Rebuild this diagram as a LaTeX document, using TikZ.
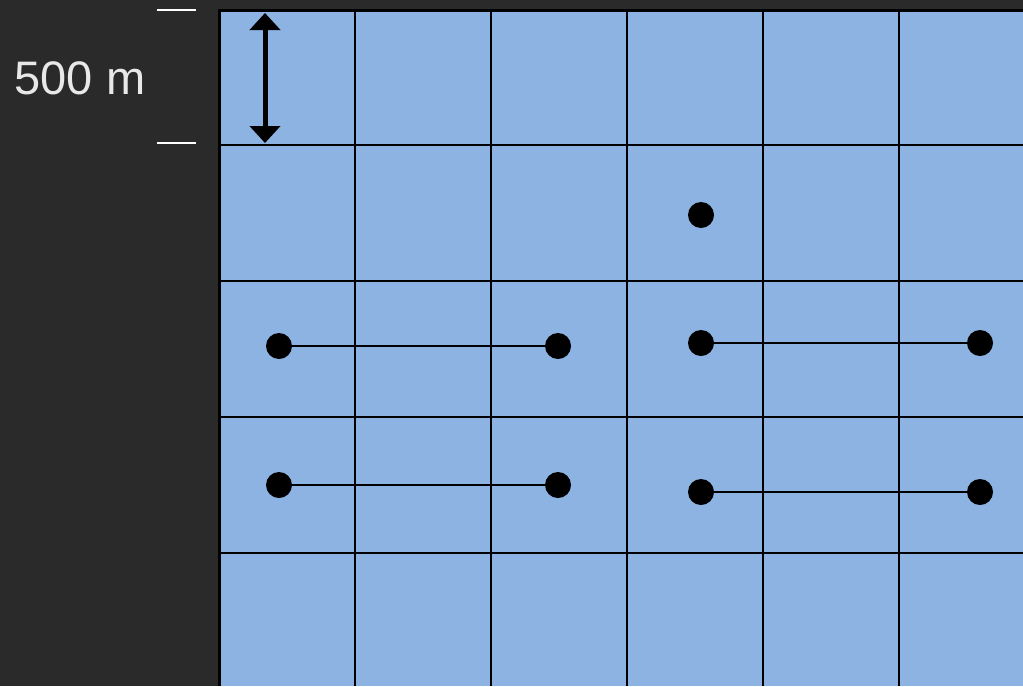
\documentclass[tikz,border=0pt]{standalone}
\usepackage{fontspec}
\setmainfont{Liberation Sans}
\usetikzlibrary{arrows.meta}
\definecolor{backdrop}{HTML}{2A2A2A}
\definecolor{cell}{HTML}{8DB3E2}
\definecolor{scaletext}{HTML}{E8E8E8}
\begin{document}
\begin{tikzpicture}[>=Latex,x=1pt,y=-1pt,
  dot/.style={circle,fill=black,inner sep=0pt,minimum size=26pt},
  gridline/.style={line width=1.4pt},
  link/.style={line width=2pt}]
\fill[backdrop] (0,0) rectangle (1023,686);
\useasboundingbox (0,0) rectangle (1023,686);
\fill[cell] (219,10) rectangle (1023,686);
\foreach \x in {355,491,627,763,899} \draw[gridline] (\x,10)--(\x,686);
\foreach \y in {145,281,417,553} \draw[gridline] (219,\y)--(1023,\y);
\draw[line width=3pt] (219,686)--(219,10)--(1023,10);
% scale bar
\node[scaletext,font=\fontsize{47}{56}\selectfont] (scale) at (80,78) {500 m};
\draw[white,line width=2pt] (157,10)--(196,10);
\draw[white,line width=2pt] (157,143)--(196,143);
\draw[{Triangle[width=30pt,length=17pt]}-{Triangle[width=30pt,length=17pt]},line width=5pt] (265,13)--(265,143);
% points
\node[dot] (solo) at (701,215) {};
\node[dot] (a1) at (279,346) {};
\node[dot] (a2) at (558,346) {};
\node[dot] (b1) at (701,343) {};
\node[dot] (b2) at (980,343) {};
\node[dot] (c1) at (279,485) {};
\node[dot] (c2) at (558,485) {};
\node[dot] (d1) at (701,492) {};
\node[dot] (d2) at (980,492) {};
\draw[link] (a1)--(a2);
\draw[link] (b1)--(b2);
\draw[link,line width=2.6pt] (c1)--(c2);
\draw[link,line width=2.4pt] (d1)--(d2);
\end{tikzpicture}
\end{document}
